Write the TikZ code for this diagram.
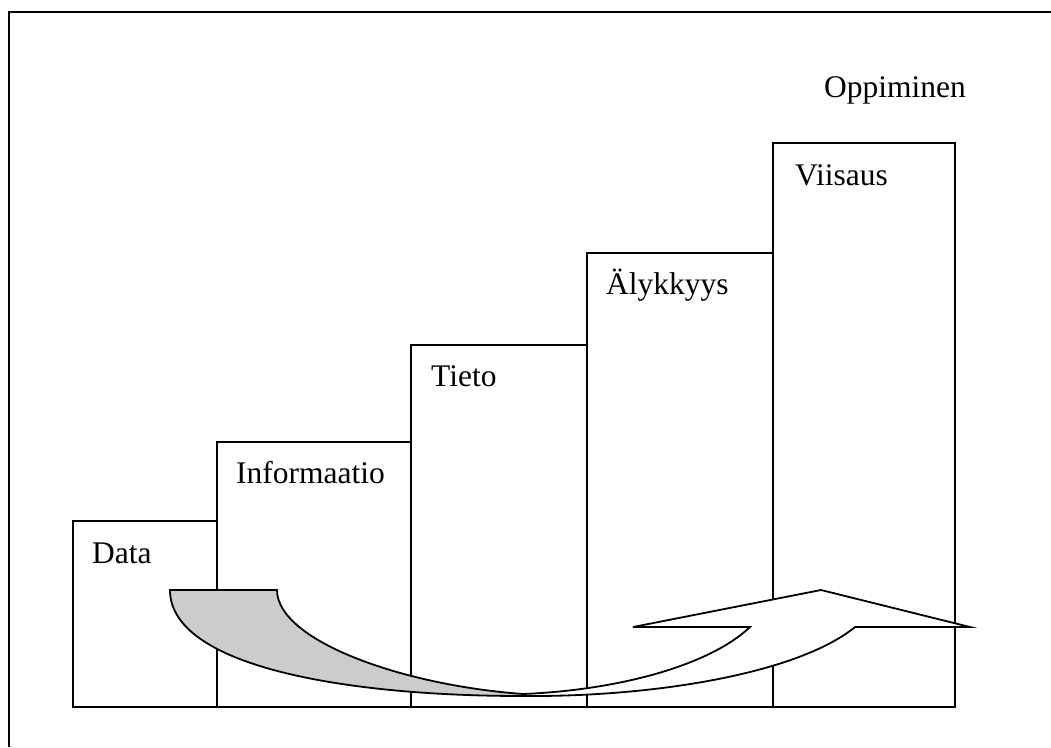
\documentclass[tikz,border=0pt]{standalone}
\usepackage{fontspec}
\setmainfont{Liberation Serif}
\begin{document}
\begin{tikzpicture}[x=1pt,y=-1pt,
  box/.style={draw=black,line width=1.8pt,inner sep=0pt,anchor=south west},
  lbl/.style={anchor=base west,inner sep=0pt,font=\fontsize{31.5}{36}\selectfont},
  band/.style={draw=black,line width=1.8pt,line join=miter}]
\useasboundingbox (0,0) rectangle (1051,747);

% open frame
\draw[line width=2.4pt] (9,747) -- (9,12) -- (1051,12);

% the five steps
\node[box,minimum width=144pt,minimum height=186pt] (data) at (72,708) {};
\node[box,minimum width=194pt,minimum height=265pt] (info) at (216,708) {};
\node[box,minimum width=176pt,minimum height=362pt] (tieto) at (410,708) {};
\node[box,minimum width=186pt,minimum height=454pt] (aly) at (586,708) {};
\node[box,minimum width=182pt,minimum height=564pt] (viisaus) at (772,708) {};

\node[lbl] (tdata) at (92,563) {Data};
\node[lbl] (tinfo) at (236,483) {Informaatio};
\node[lbl] (ttieto) at (431,386) {Tieto};
\node[lbl] (taly) at (606,294) {Älykkyys};
\node[lbl] (tviis) at (795,185) {Viisaus};
\node[lbl] (topp) at (824,97) {Oppiminen};

% curved arrow
\coordinate (A) at (170,590);
\coordinate (C) at (277,590);
\coordinate (T) at (523,694);
\coordinate (M) at (523,696);
\coordinate (D) at (750,627);
\coordinate (B) at (855,627);
\coordinate (N1) at (633,627);
\coordinate (tip) at (821,590);
\coordinate (N2) at (970,627);

% back of the band
\filldraw[band,fill=black!20] (A) -- (C)
  .. controls (277,640) and (400,685) .. (T) -- (M)
  .. controls (340,696) and (170,665) .. (A) -- cycle;

% front of the band with the head
\filldraw[band,fill=white] (T)
  .. controls (620,690) and (710,665) .. (D)
  -- (N1) -- (tip) -- (N2) -- (B)
  .. controls (800,672) and (660,697) .. (M) -- cycle;
\end{tikzpicture}
\end{document}
